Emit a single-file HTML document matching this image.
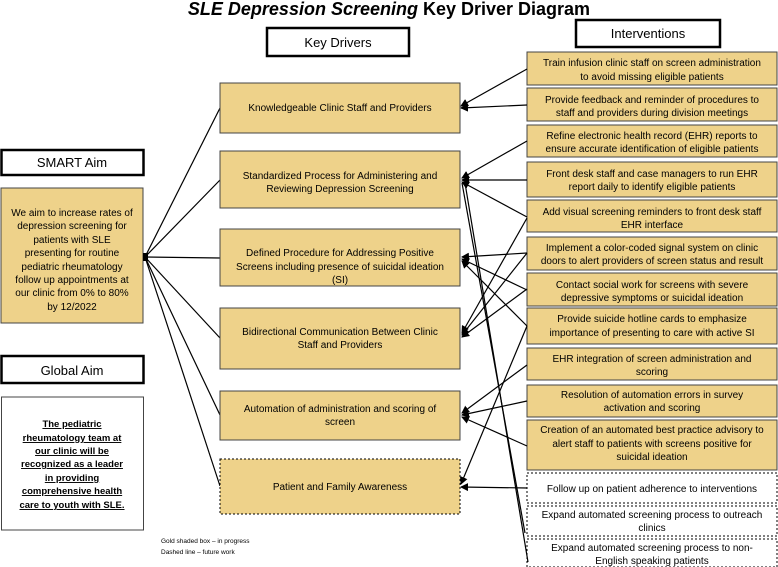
<!DOCTYPE html>
<html><head><meta charset="utf-8"><style>
html,body{margin:0;padding:0;background:#fff;}
svg{display:block;font-family:"Liberation Sans",sans-serif;}
</style></head><body>
<svg width="778" height="567" viewBox="0 0 778 567" xmlns="http://www.w3.org/2000/svg">
<defs><marker id="a" markerWidth="8" markerHeight="8" refX="7" refY="4" orient="auto" markerUnits="userSpaceOnUse"><path d="M0,0 L8,4 L0,8 z" fill="#000"/></marker></defs>
<text x="389" y="15" text-anchor="middle" font-size="18" font-weight="bold"><tspan font-style="italic">SLE Depression Screening</tspan> Key Driver Diagram</text>
<rect x="267" y="28" width="142" height="28" fill="#fff" stroke="#000" stroke-width="2.5"/>
<text x="338" y="47" text-anchor="middle" font-size="13">Key Drivers</text>
<rect x="576" y="20" width="144" height="27" fill="#fff" stroke="#000" stroke-width="2.5"/>
<text x="648" y="38" text-anchor="middle" font-size="13">Interventions</text>
<rect x="1.5" y="150" width="142" height="25" fill="#fff" stroke="#000" stroke-width="2.5"/>
<text x="72" y="167" text-anchor="middle" font-size="13">SMART Aim</text>
<rect x="1" y="188" width="142" height="135" fill="#eed28a" stroke="#444" stroke-width="1"/>
<g font-size="10" text-anchor="middle">
<text x="72" y="216">We aim to increase rates of</text><text x="72" y="229">depression screening for</text><text x="72" y="243">patients with SLE</text><text x="72" y="256">presenting for routine</text><text x="72" y="270">pediatric rheumatology</text><text x="72" y="283">follow up appointments at</text><text x="72" y="296">our clinic from 0% to 80%</text><text x="72" y="310">by 12/2022</text>
</g>
<rect x="1.5" y="356" width="142" height="27" fill="#fff" stroke="#000" stroke-width="2.5"/>
<text x="72" y="375" text-anchor="middle" font-size="13">Global Aim</text>
<rect x="1.5" y="397" width="142" height="133" fill="#fff" stroke="#444" stroke-width="1"/>
<g font-size="9.5" font-weight="bold" text-anchor="middle" text-decoration="underline">
<text x="72" y="427">The pediatric</text><text x="72" y="441">rheumatology team at</text><text x="72" y="454">our clinic will be</text><text x="72" y="467">recognized as a leader</text><text x="72" y="481">in providing</text><text x="72" y="494">comprehensive health</text><text x="72" y="508">care to youth with SLE.</text>
</g>
<g font-size="6.5"><text x="161" y="543">Gold shaded box – in progress</text><text x="161" y="554">Dashed line – future work</text></g>
<g stroke="#000" stroke-width="1.2" fill="none">
<line x1="145" y1="257" x2="220" y2="108"/><line x1="145" y1="257" x2="220" y2="180"/><line x1="145" y1="257" x2="220" y2="258"/><line x1="145" y1="257" x2="220" y2="338"/><line x1="145" y1="257" x2="220" y2="415"/><line x1="145" y1="257" x2="220" y2="486"/>
</g>
<rect x="143" y="253" width="5" height="8" fill="#000"/>
<g fill="#eed28a" stroke="#444" stroke-width="1">
<rect x="220" y="83" width="240" height="50"/><rect x="220" y="151" width="240" height="57"/><rect x="220" y="229" width="240" height="57"/><rect x="220" y="308" width="240" height="61"/><rect x="220" y="391" width="240" height="49"/><rect x="220" y="459" width="240" height="55" stroke="#000" stroke-dasharray="2,2"/>
</g>
<g font-size="10" text-anchor="middle">
<text x="340" y="111">Knowledgeable Clinic Staff and Providers</text>
<text x="340" y="179">Standardized Process for Administering and</text><text x="340" y="192">Reviewing Depression Screening</text>
<text x="340" y="256">Defined Procedure for Addressing Positive</text><text x="340" y="270">Screens including presence of suicidal ideation</text><text x="340" y="283">(SI)</text>
<text x="340" y="335">Bidirectional Communication Between Clinic</text><text x="340" y="348">Staff and Providers</text>
<text x="340" y="412">Automation of administration and scoring of</text><text x="340" y="425">screen</text>
<text x="340" y="490">Patient and Family Awareness</text>
</g>
<g fill="#eed28a" stroke="#444" stroke-width="1">
<rect x="527" y="52" width="250" height="33"/><rect x="527" y="88" width="250" height="33"/><rect x="527" y="125" width="250" height="32"/><rect x="527" y="162" width="250" height="35"/><rect x="527" y="200" width="250" height="32"/><rect x="527" y="237" width="250" height="33"/><rect x="527" y="273" width="250" height="33"/><rect x="527" y="308" width="250" height="36"/><rect x="527" y="348" width="250" height="32"/><rect x="527" y="385" width="250" height="32"/><rect x="527" y="420" width="250" height="50"/>
</g>
<g fill="#fff" stroke="#000" stroke-width="1" stroke-dasharray="2,2">
<rect x="527" y="473" width="250" height="30"/><rect x="527" y="506" width="250" height="30"/><rect x="527" y="539" width="250" height="28"/>
</g>
<g font-size="10" text-anchor="middle">
<text x="652" y="66">Train infusion clinic staff on screen administration</text><text x="652" y="80">to avoid missing eligible patients</text>
<text x="652" y="103">Provide feedback and reminder of procedures to</text><text x="652" y="116">staff and providers during division meetings</text>
<text x="652" y="139">Refine electronic health record (EHR) reports to</text><text x="652" y="152">ensure accurate identification of eligible patients</text>
<text x="652" y="177">Front desk staff and case managers to run EHR</text><text x="652" y="190">report daily to identify eligible patients</text>
<text x="652" y="215">Add visual screening reminders to front desk staff</text><text x="652" y="228">EHR interface</text>
<text x="652" y="251">Implement a color-coded signal system on clinic</text><text x="652" y="264">doors to alert providers of screen status and result</text>
<text x="652" y="288">Contact social work for screens with severe</text><text x="652" y="301">depressive symptoms or suicidal ideation</text>
<text x="652" y="322">Provide suicide hotline cards to emphasize</text><text x="652" y="336">importance of presenting to care with active SI</text>
<text x="652" y="362">EHR integration of screen administration and</text><text x="652" y="375">scoring</text>
<text x="652" y="398">Resolution of automation errors in survey</text><text x="652" y="411">activation and scoring</text>
<text x="652" y="433">Creation of an automated best practice advisory to</text><text x="652" y="447">alert staff to patients with screens positive for</text><text x="652" y="460">suicidal ideation</text>
<text x="652" y="492">Follow up on patient adherence to interventions</text>
<text x="652" y="518">Expand automated screening process to outreach</text><text x="652" y="531">clinics</text>
<text x="652" y="551">Expand automated screening process to non-</text><text x="652" y="564">English speaking patients</text>
</g>
<g stroke="#000" stroke-width="1.2" fill="none" marker-end="url(#a)">
<line x1="527" y1="69" x2="461" y2="106"/><line x1="527" y1="105" x2="461" y2="108"/>
<line x1="527" y1="141" x2="462" y2="178"/><line x1="527" y1="180" x2="462" y2="180"/><line x1="527" y1="217" x2="462" y2="182"/>
<line x1="527" y1="253" x2="462" y2="257"/><line x1="527" y1="290" x2="462" y2="259"/><line x1="527" y1="326" x2="462" y2="261"/>
<line x1="527" y1="218" x2="462" y2="333"/><line x1="527" y1="253" x2="462" y2="335"/><line x1="527" y1="289" x2="462" y2="337"/>
<line x1="527" y1="365" x2="462" y2="413"/><line x1="527" y1="401" x2="462" y2="415"/><line x1="527" y1="446" x2="462" y2="417"/>
<line x1="527" y1="326" x2="461" y2="484"/><line x1="527" y1="488" x2="461" y2="487"/>
</g>
<g stroke="#000" stroke-width="1.2" fill="none">
<line x1="462" y1="183" x2="525" y2="533"/><line x1="465" y1="183" x2="528" y2="562"/>
</g>
</svg>
</body></html>
